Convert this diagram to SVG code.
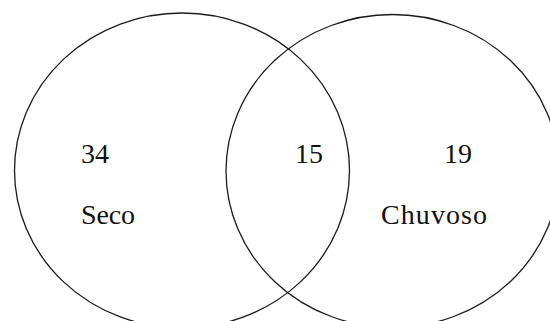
<svg xmlns="http://www.w3.org/2000/svg" width="550" height="321" viewBox="0 0 550 321">
<style>
.set{fill:none;stroke:#1a1a1a;stroke-width:1.3}
.t{font-family:"Liberation Serif","Times New Roman",serif;font-size:28px;fill:#111}
</style>
<rect width="550" height="321" fill="#fff"/>
<g id="seco">
<ellipse class="set" cx="182" cy="170.5" rx="167.5" ry="157.5"/>
<text class="t" x="81" y="163">34</text>
<text class="t" x="81" y="224" textLength="54">Seco</text>
</g>
<g id="chuvoso">
<ellipse class="set" cx="392.5" cy="171" rx="166.5" ry="156.5"/>
<text class="t" x="444" y="163">19</text>
<text class="t" x="381" y="224" textLength="106">Chuvoso</text>
</g>
<g id="intersecao">
<text class="t" x="295" y="163">15</text>
</g>
</svg>
